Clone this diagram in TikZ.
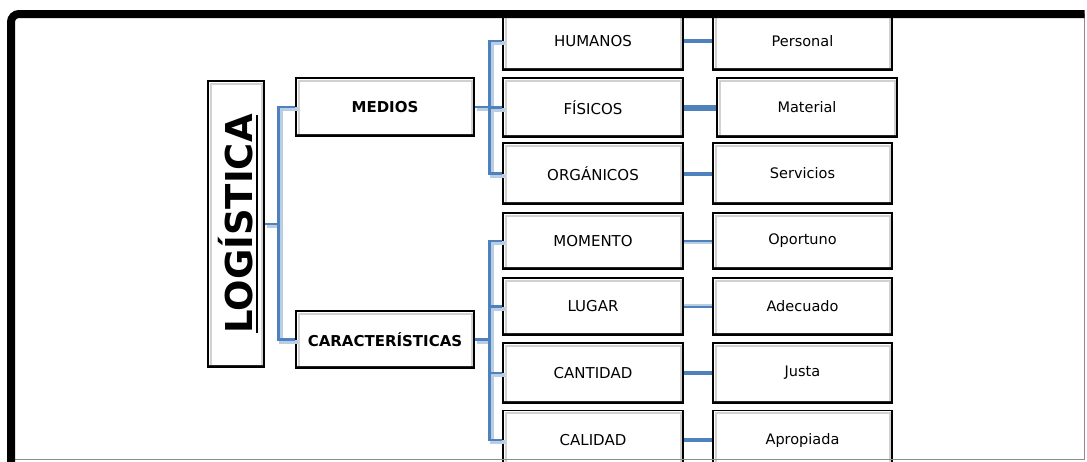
\documentclass[tikz,border=0pt]{standalone}
\usepackage{fontspec}
\setmainfont{DejaVu Sans}
\usetikzlibrary{calc}
\definecolor{cblue}{HTML}{4F81BD}
\definecolor{clight}{HTML}{B9CDE5}
\tikzset{
  x=1pt, y=-1pt,
  bx/.style={draw=black, fill=white, line width=1.4pt, inner sep=0pt,
    minimum width=179pt, minimum height=58pt, font=\fontsize{14.5}{16}\selectfont,
    path picture={
      \draw[black!18, line width=2pt]
        ([shift={(2.5pt,1pt)}]path picture bounding box.south west) --
        ([shift={(2.5pt,-2.5pt)}]path picture bounding box.north west) --
        ([shift={(-2.5pt,-2.5pt)}]path picture bounding box.north east) --
        ([shift={(-2.5pt,1pt)}]path picture bounding box.south east);
      \draw[black!85, line width=5pt]
        (path picture bounding box.south west) -- (path picture bounding box.south east);
    }},
  capbx/.style={bx, font=\fontsize{15}{17}\selectfont},
  boldbx/.style={bx, font=\fontsize{15}{17}\selectfont\bfseries},
  conn/.style={cblue, line width=2.6pt},
  connshadow/.style={clight, line width=4pt},
}
\begin{document}
\begin{tikzpicture}
\useasboundingbox (0,0) rectangle (1087,461);
% nodes
\node[bx, minimum width=56pt, minimum height=286pt] (L) at (236,224)
  {\rotatebox{90}{\fontsize{37}{40}\selectfont\bfseries LOGÍSTICA}};
\node[boldbx, minimum width=178pt, minimum height=58pt] (M) at (385,107) {MEDIOS};
\node[boldbx, minimum width=178pt, minimum height=57pt] (C) at (385,339.5) {CARACTERÍSTICAS};
\node[capbx, minimum width=180pt, minimum height=58pt] (H) at (593,41) {HUMANOS};
\node[capbx, minimum width=180pt, minimum height=59pt] (F) at (593,107.5) {FÍSICOS};
\node[capbx, minimum width=180pt, minimum height=61pt] (O) at (593,173.5) {ORGÁNICOS};
\node[capbx, minimum width=180pt, minimum height=56pt] (Mo) at (593,241) {MOMENTO};
\node[capbx, minimum width=180pt, minimum height=57pt] (Lu) at (593,306.5) {LUGAR};
\node[capbx, minimum width=180pt, minimum height=60pt] (Ca) at (593,373) {CANTIDAD};
\node[capbx, minimum width=180pt, minimum height=59pt] (Cl) at (593,440) {CALIDAD};
\node[bx, minimum width=179pt, minimum height=58pt] (P) at (802.5,41) {Personal};
\node[bx, minimum width=180pt, minimum height=59pt] (Ma) at (807,107.5) {Material};
\node[bx, minimum width=179pt, minimum height=61pt] (S) at (802.5,173.5) {Servicios};
\node[bx, minimum width=179pt, minimum height=56pt] (Op) at (802.5,241) {Oportuno};
\node[bx, minimum width=179pt, minimum height=57pt] (Ad) at (802.5,306.5) {Adecuado};
\node[bx, minimum width=179pt, minimum height=60pt] (J) at (802.5,373) {Justa};
\node[bx, minimum width=179pt, minimum height=59pt] (Ap) at (802.5,440) {Apropiada};
% underline of LOGISTICA
\draw[line width=2.6pt] ($(L.center)+(21,-109)$) -- ($(L.center)+(21,109)$);
% connectors: shadows
\begin{scope}[connshadow, transform canvas={shift={(2.5pt,-2pt)}}]
  \draw (L.east) -- ++(14,0) |- (M.west);
  \draw (L.east) -- ++(14,0) |- (C.west);
  \foreach \t in {H,F,O} \draw (M.east) -- ++(15,0) |- (\t.west);
  \foreach \t in {Mo,Lu,Ca,Cl} \draw (C.east) -- ++(15,0) |- (\t.west);
\end{scope}
\draw[conn] (L.east) -- ++(14,0) |- (M.west);
\draw[conn] (L.east) -- ++(14,0) |- (C.west);
\foreach \t in {H,F,O} \draw[conn] (M.east) -- ++(15,0) |- (\t.west);
\foreach \t in {Mo,Lu,Ca,Cl} \draw[conn] (C.east) -- ++(15,0) |- (\t.west);
% right connectors
\draw[conn, line width=4pt] (H.east) -- (P.west);
\draw[conn, line width=6pt] (F.east) -- (F.east -| Ma.west);
\draw[conn, line width=4pt] (O.east) -- (S.west);
\draw[connshadow, line width=4pt] ([yshift=-1pt]Mo.east) -- ([yshift=-1pt]Op.west);
\draw[conn, line width=2pt] (Mo.east) -- (Op.west);
\draw[connshadow, line width=4pt] ([yshift=1pt]Lu.east) -- ([yshift=1pt]Ad.west);
\draw[conn, line width=2pt] (Lu.east) -- (Ad.west);
\draw[conn, line width=4pt] (Ca.east) -- (J.west);
\draw[conn, line width=4pt] (Cl.east) -- (Ap.west);
% frame
\draw[black!45, line width=1pt] (1084,14) -- (1084,459.5) -- (11,459.5);
\draw[black, line width=8pt, rounded corners=8pt] (11,462) -- (11,14) -- (1084.5,14);
\end{tikzpicture}
\end{document}
